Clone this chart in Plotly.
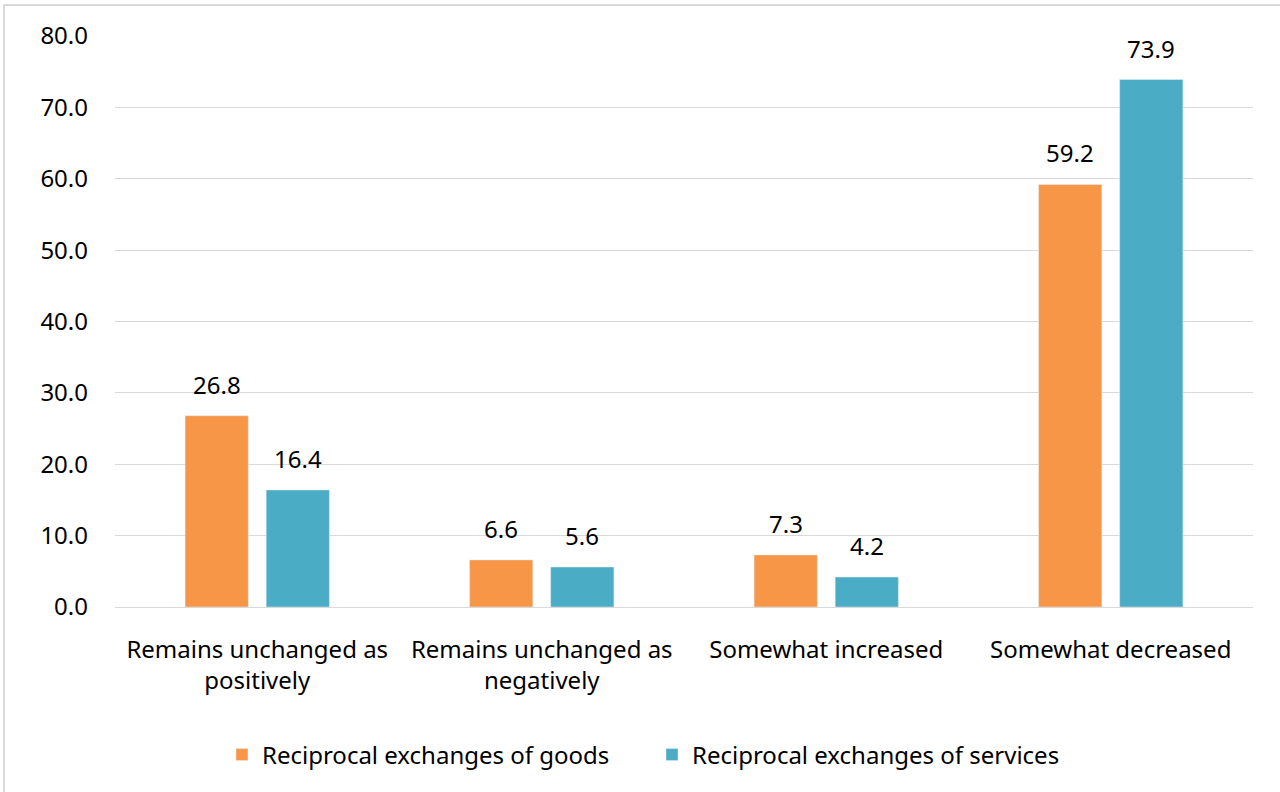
import plotly.graph_objects as go

categories = ["Remains unchanged as<br>positively", "Remains unchanged as<br>negatively",
              "Somewhat increased", "Somewhat decreased"]
goods = [26.8, 6.6, 7.3, 59.2]
services = [16.4, 5.6, 4.2, 73.9]
tick_vals = [0, 10, 20, 30, 40, 50, 60, 70, 80]

FONT = "Noto Sans"
FS = 24

fig = go.Figure()
fig.add_trace(go.Bar(
    x=categories, y=goods, name="Reciprocal exchanges of goods",
    marker=dict(color="#f79646")))
fig.add_trace(go.Bar(
    x=categories, y=services, name="Reciprocal exchanges of services",
    marker=dict(color="#4bacc6")))

annotations = []
for vals, shift in ((goods, -40.5), (services, 40.5)):
    for c, v in zip(categories, vals):
        annotations.append(dict(x=c, y=v, text=f"{v:.1f}", showarrow=False,
                                xshift=shift, yshift=13, yanchor="bottom",
                                font=dict(size=FS, family=FONT, color="#000000")))

fig.update_layout(
    width=1280, height=792,
    margin=dict(l=115, r=27, t=36, b=185),
    paper_bgcolor="white", plot_bgcolor="white",
    barmode="group", bargap=0.43, bargroupgap=0.22,
    font=dict(family=FONT, size=FS, color="#000000"),
    showlegend=True,
    legend=dict(orientation="h", x=(241 - 115 - 19) / 1138, xanchor="left",
                y=(607 - 755) / 571, yanchor="middle",
                font=dict(size=FS, family=FONT), entrywidth=385, entrywidthmode="pixels",
                traceorder="normal"),
    annotations=annotations,
    shapes=[dict(type="rect", xref="paper", yref="paper",
                 x0=(4 - 115) / 1138, x1=1.2, y0=-0.6, y1=(607 - 5) / 571,
                 line=dict(color="#d9d9d9", width=2), fillcolor="rgba(0,0,0,0)", layer="below")],
)
fig.update_xaxes(showline=True, linecolor="#d9d9d9", linewidth=1, ticks="",
                 tickfont=dict(size=FS, family=FONT, color="#000000"), ticklabelstandoff=21)
fig.update_yaxes(range=[0, 80], tickvals=tick_vals, tickformat=".1f",
                 showgrid=True, gridcolor="#d9d9d9", gridwidth=1, zeroline=False,
                 tickfont=dict(size=FS, family=FONT, color="#000000"), ticklabelstandoff=26)

fig.write_html("out.html")
